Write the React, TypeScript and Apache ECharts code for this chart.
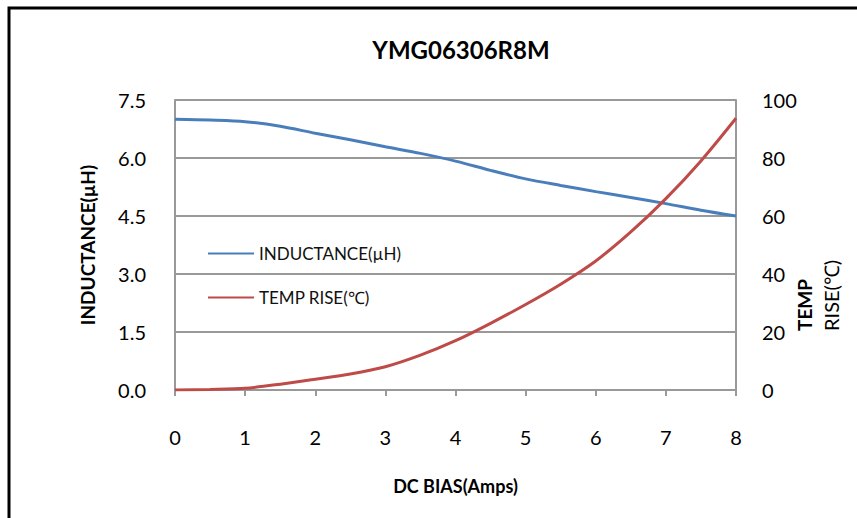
import React, { useEffect, useRef } from "react";
import * as echarts from "echarts";

const dcBias = [0, 0.5, 1, 1.5, 2, 2.5, 3, 3.5, 4, 4.5, 5, 5.5, 6, 6.5, 7, 7.5, 8];
const inductance = [7.0, 6.98, 6.94, 6.82, 6.64, 6.47, 6.29, 6.12, 5.92, 5.68, 5.46, 5.29, 5.13, 4.98, 4.82, 4.65, 4.5];
const tempRise = [0, 0.2, 0.6, 2.0, 3.7, 5.5, 8.0, 12.0, 17.0, 23.0, 29.5, 36.5, 44.5, 54.5, 66.0, 79.0, 93.7];
const xTicks = [0, 1, 2, 3, 4, 5, 6, 7, 8];
const leftTicks = [0, 1.5, 3.0, 4.5, 6.0, 7.5];
const rightTicks = [0, 20, 40, 60, 80, 100];

const FONT = "Lato, 'Open Sans', sans-serif";
const BLUE = "#4a7ebb";
const RED = "#be4b48";
const TXT = "#000";

export default function App() {
  const ref = useRef<HTMLDivElement>(null);
  useEffect(() => {
    if (!ref.current) return;
    const chart = echarts.init(ref.current, undefined, { renderer: "svg" });
    chart.setOption({
      animation: false,
      backgroundColor: "#fff",
      title: {
        text: "YMG06306R8M",
        left: 456,
        top: 32,
        textAlign: "center",
        textStyle: { fontFamily: FONT, fontWeight: "bold", fontSize: 24, color: TXT },
      },
      grid: { left: 175, right: 121, top: 100, bottom: 128, containLabel: false },
      legend: {
        orient: "vertical",
        left: 203,
        top: 240,
        itemWidth: 46,
        itemHeight: 14,
        itemGap: 27,
        textStyle: { fontFamily: FONT, fontSize: 17, color: "#111" },
        data: [
          { name: "INDUCTANCE(µH)", icon: "path://M0,0 L46,0 L46,2 L0,2 Z" },
          { name: "TEMP RISE(℃)", icon: "path://M0,0 L46,0 L46,2 L0,2 Z" },
        ],
      },
      graphic: [
        {
          type: "rect",
          shape: { x: 9, y: 8, width: 1000, height: 700 },
          style: { fill: "none", stroke: "#000", lineWidth: 3 },
          silent: true,
        },
        {
          type: "text",
          x: 804,
          y: 331,
          rotation: Math.PI / 2,
          style: {
            text: "TEMP",
            fontFamily: FONT,
            fontWeight: "bold",
            fontSize: 19,
            fill: TXT,
            textAlign: "left",
            textVerticalAlign: "middle",
          },
        },
        {
          type: "text",
          x: 831,
          y: 331,
          rotation: Math.PI / 2,
          style: {
            text: "RISE(℃)",
            fontFamily: FONT,
            fontSize: 20,
            fill: TXT,
            textAlign: "left",
            textVerticalAlign: "middle",
          },
        },
      ],
      xAxis: {
        type: "value",
        min: 0,
        max: 8,
        interval: 1,
        name: "DC BIAS(Amps)",
        nameLocation: "middle",
        nameGap: 87,
        nameTextStyle: { fontFamily: FONT, fontWeight: "bold", fontSize: 18, color: TXT },
        axisLine: { show: true, lineStyle: { color: "#999", width: 2 } },
        axisTick: { show: true, length: 6, lineStyle: { color: "#999", width: 2 } },
        axisLabel: {
          margin: 37,
          fontFamily: FONT,
          fontSize: 20,
          color: TXT,
          customValues: xTicks,
        },
        splitLine: { show: false },
      },
      yAxis: [
        {
          type: "value",
          min: 0,
          max: 7.5,
          interval: 1.5,
          position: "left",
          name: "INDUCTANCE(µH)",
          nameLocation: "middle",
          nameGap: 78,
          nameTextStyle: { fontFamily: FONT, fontWeight: "bold", fontSize: 19, color: TXT },
          axisLine: { show: true, lineStyle: { color: "#999", width: 2 } },
          axisTick: { show: false },
          axisLabel: {
            margin: 29,
            fontFamily: FONT,
            fontSize: 20,
            color: TXT,
            formatter: (v: number) => v.toFixed(1),
            customValues: leftTicks,
          },
          splitLine: { show: true, lineStyle: { color: "#999", width: 2 } },
        },
        {
          type: "value",
          min: 0,
          max: 100,
          interval: 20,
          position: "right",
          axisLine: { show: true, lineStyle: { color: "#999", width: 2 } },
          axisTick: { show: false },
          axisLabel: {
            margin: 26,
            fontFamily: FONT,
            fontSize: 20,
            color: TXT,
            customValues: rightTicks,
          },
          splitLine: { show: false },
        },
      ],
      series: [
        {
          name: "INDUCTANCE(µH)",
          type: "line",
          yAxisIndex: 0,
          data: dcBias.map((x, i) => [x, inductance[i]]),
          smooth: 0.3,
          symbol: "none",
          lineStyle: { color: BLUE, width: 3 },
          itemStyle: { color: BLUE },
        },
        {
          name: "TEMP RISE(℃)",
          type: "line",
          yAxisIndex: 1,
          data: dcBias.map((x, i) => [x, tempRise[i]]),
          smooth: 0.3,
          symbol: "none",
          lineStyle: { color: RED, width: 3 },
          itemStyle: { color: RED },
        },
      ],
    });
    return () => chart.dispose();
  }, []);
  return (
    <div
      ref={ref}
      style={{ position: "absolute", left: 0, top: 0, width: 857, height: 518 }}
    />
  );
}
